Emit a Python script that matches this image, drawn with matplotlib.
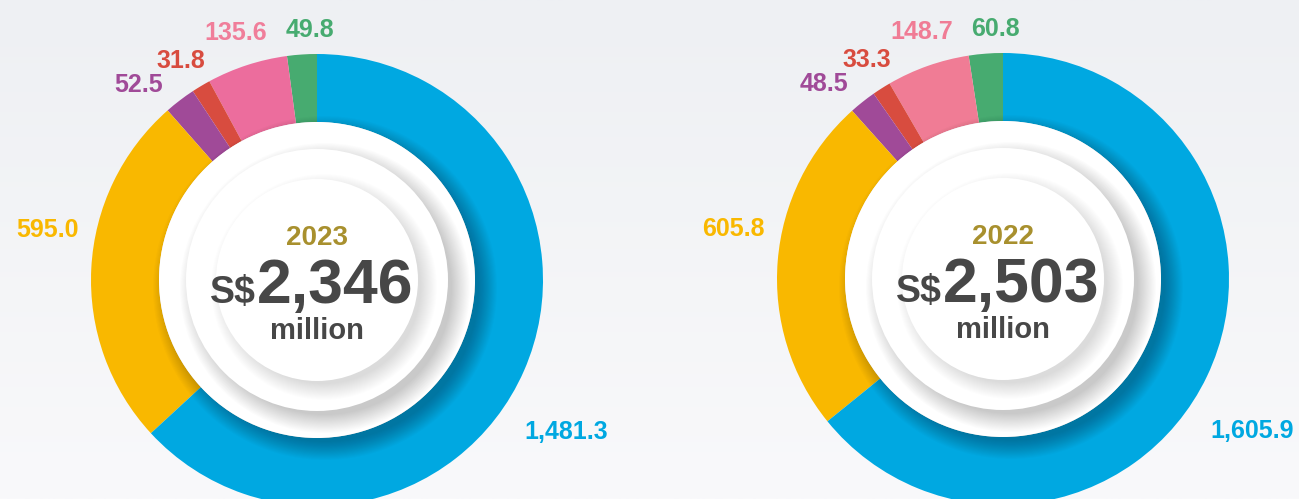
import numpy as np
import matplotlib.pyplot as plt
from matplotlib.patches import Circle

plt.rcParams['font.family'] = ['Liberation Sans', 'DejaVu Sans']

# segments, counter-clockwise from 12 o'clock
segments = ["Green", "Pink", "Red", "Purple", "Yellow", "Blue"]
values_2023 = [49.8, 135.6, 31.8, 52.5, 595.0, 1481.3]
values_2022 = [60.8, 148.7, 33.3, 48.5, 605.8, 1605.9]
labels_2023 = ["49.8", "135.6", "31.8", "52.5", "595.0", "1,481.3"]
labels_2022 = ["60.8", "148.7", "33.3", "48.5", "605.8", "1,605.9"]
totals = ["2,346", "2,503"]
years = ["2023", "2022"]

colors_2023 = ["#47AB70", "#EC6D9D", "#D84C3F", "#A04A98", "#F9B800", "#00A8E1"]
colors_2022 = ["#47AB70", "#F07C95", "#D84C3F", "#A04A98", "#F9B800", "#00A8E1"]
label_colors_2023 = ["#47AB70", "#F07E9A", "#D84C3F", "#A04A98", "#F9B800", "#00A8E1"]

# where the value labels sit (polar, around each donut centre)
label_angle = [91.7, 108.0, 121.7, 132.2, 169.0, -31.0]
label_dist = [252, 262, 260, 266, 275, 291]

W, H = 1299, 499
fig = plt.figure(figsize=(W / 100, H / 100), dpi=100)
ax = fig.add_axes([0, 0, 1, 1])

# background: soft light gray gradient
grad = np.linspace(0, 1, 200)[:, None]
top = np.array([238, 240, 243]) / 255
bot = np.array([249, 249, 251]) / 255
img = top[None, None, :] * (1 - grad[..., None]) + bot[None, None, :] * grad[..., None]
img = np.repeat(img, 2, axis=1)
ax.imshow(img, extent=[0, W, 0, H], origin='upper', aspect='auto', zorder=0)


def soft_shadow(cx, cy, r, off, spread, alpha, z=3):
    n = 18
    for k in range(n):
        rr = r + spread * (k / (n - 1)) - 4
        ax.add_patch(Circle((cx + off, cy - off), rr, color="black",
                            alpha=alpha, lw=0, zorder=z))


def donut(cx, cy, values, colors, labels, lcolors, year, total):
    R, ring = 226, 68
    wedges, _ = ax.pie(values, colors=colors, startangle=90, counterclock=True,
                       radius=R, center=(cx, cy), frame=True,
                       wedgeprops=dict(width=ring, linewidth=0))
    for w in wedges:
        w.set_zorder(2)

    # value labels
    for i in range(len(wedges)):
        a = np.deg2rad(label_angle[i])
        d = label_dist[i]
        ax.text(cx + d * np.cos(a), cy + d * np.sin(a) - 9, labels[i],
                color=lcolors[i], fontsize=18, fontweight='bold',
                ha='center', va='baseline', zorder=10)

    # layered white discs with soft shadows
    soft_shadow(cx, cy, 158, off=8, spread=18, alpha=0.014)
    ax.add_patch(Circle((cx, cy), 158, color="white", lw=0, zorder=4))
    soft_shadow(cx, cy, 131, off=8, spread=18, alpha=0.011, z=5)
    ax.add_patch(Circle((cx, cy), 131, color="white", lw=0, zorder=6))
    soft_shadow(cx, cy, 101, off=7, spread=16, alpha=0.009, z=7)
    ax.add_patch(Circle((cx, cy), 101, color="white", lw=0, zorder=8))

    ax.text(cx, cy + 35, year, color="#A8902E", fontsize=20,
            fontweight='bold', ha='center', va='baseline', zorder=10)
    ax.text(cx - 61, cy - 23, "S$", color="#474747", fontsize=27,
            fontweight='bold', ha='right', va='baseline', zorder=10)
    ax.text(cx - 60, cy - 23, total, color="#474747", fontsize=45,
            fontweight='bold', ha='left', va='baseline', zorder=10)
    ax.text(cx, cy - 59, "million", color="#474747", fontsize=21,
            fontweight='bold', ha='center', va='baseline', zorder=10)


donut(317, 219, values_2023, colors_2023, labels_2023, label_colors_2023,
      years[0], totals[0])
donut(1003, 220, values_2022, colors_2022, labels_2022, colors_2022,
      years[1], totals[1])

ax.set_xlim(0, W)
ax.set_ylim(0, H)
ax.set_aspect('auto')
ax.axis('off')
fig.savefig("out.png", dpi=100)
